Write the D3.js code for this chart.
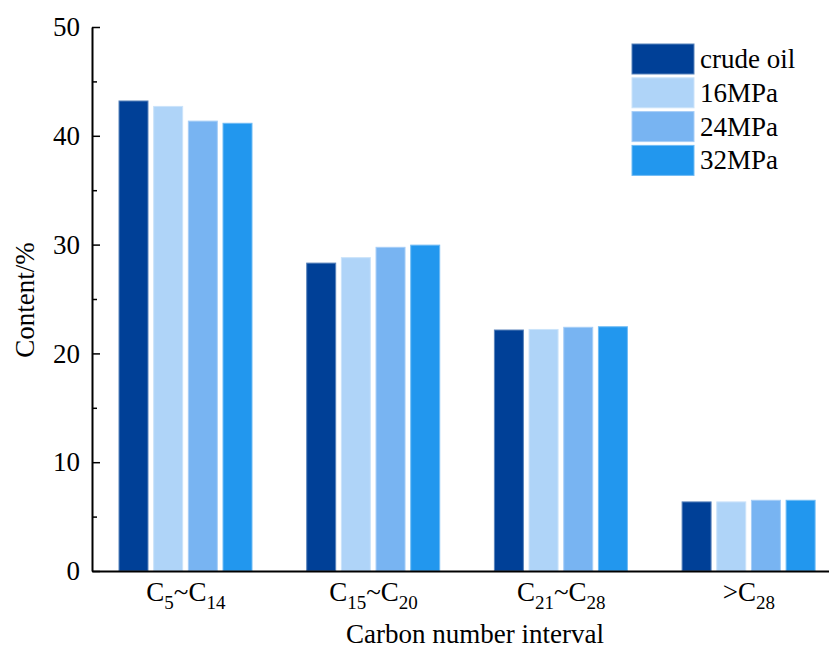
<!DOCTYPE html>
<html>
<head>
<meta charset="utf-8">
<script src="https://cdn.jsdelivr.net/npm/d3@7"></script>
<style>
  html, body { margin: 0; padding: 0; background: #fff; }
  svg { display: block; font-family: "Liberation Serif", "Times New Roman", serif; }
</style>
</head>
<body>
<svg id="chart" width="829" height="650"></svg>
<script>
// Carbon number intervals (digits are drawn as subscripts)
const categories = ["C5~C14", "C15~C20", "C21~C28", ">C28"];
const seriesNames = ["crude oil", "16MPa", "24MPa", "32MPa"];
const crudeOil = [43.2, 28.3, 22.15, 6.35];
const mpa16 = [42.7, 28.8, 22.2, 6.35];
const mpa24 = [41.35, 29.75, 22.4, 6.5];
const mpa32 = [41.15, 29.95, 22.45, 6.5];
const seriesColors = ["#004097", "#afd4f8", "#78b4f2", "#2297ee"];
const yTicks = [0, 10, 20, 30, 40, 50];
const yMinorTicks = [5, 15, 25, 35, 45];

const seriesValues = [crudeOil, mpa16, mpa24, mpa32];

const svg = d3.select("#chart");
const plotLeft = 92, plotTop = 27, plotBottom = 571;
const bandStep = 187.7;
const fontSize = 27;

const x = d3.scaleBand()
  .domain(categories)
  .range([plotLeft, plotLeft + bandStep * categories.length])
  .paddingInner(0).paddingOuter(0);

const xInner = d3.scaleBand()
  .domain(seriesNames)
  .range([27, 160])
  .paddingInner(0.164).paddingOuter(0);

const y = d3.scaleLinear().domain([0, 50]).range([plotBottom, plotTop]);

// Bars
const groups = svg.append("g").selectAll("g")
  .data(categories)
  .join("g")
  .attr("transform", d => `translate(${x(d)},0)`);

groups.selectAll("rect")
  .data((cat, ci) => seriesNames.map((s, si) => ({ s, si, v: seriesValues[si][ci] })))
  .join("rect")
  .attr("x", d => xInner(d.s))
  .attr("y", d => y(d.v))
  .attr("width", xInner.bandwidth())
  .attr("height", d => y(0) - y(d.v))
  .attr("fill", d => seriesColors[d.si])
  .attr("stroke", d => d3.interpolateRgb(seriesColors[d.si], "#ffffff")(0.35))
  .attr("stroke-width", 1);

// Y axis: major ticks point inward
const yAxis = svg.append("g")
  .attr("transform", `translate(${plotLeft},0)`)
  .call(d3.axisLeft(y).tickValues(yTicks).tickSizeInner(-8).tickSizeOuter(0).tickPadding(12));
yAxis.select(".domain").attr("stroke", "#000").attr("stroke-width", 2);
yAxis.selectAll(".tick line").attr("stroke", "#000").attr("stroke-width", 1.5);
yAxis.selectAll(".tick text")
  .attr("font-size", fontSize)
  .attr("font-family", "Liberation Serif, Times New Roman, serif")
  .attr("fill", "#000");

// Minor ticks
const yMinor = svg.append("g")
  .attr("transform", `translate(${plotLeft},0)`)
  .call(d3.axisLeft(y).tickValues(yMinorTicks).tickSizeInner(-5).tickSizeOuter(0).tickFormat(""));
yMinor.select(".domain").remove();
yMinor.selectAll(".tick line").attr("stroke", "#000").attr("stroke-width", 1.5);

// X axis baseline
const xAxis = svg.append("g")
  .attr("transform", `translate(0,${plotBottom})`)
  .call(d3.axisBottom(x).tickSize(0).tickFormat(""));
xAxis.select(".domain").attr("stroke", "#000").attr("stroke-width", 2);

// Category labels with subscripted digits
const catLabels = svg.append("g").selectAll("text")
  .data(categories)
  .join("text")
  .attr("x", d => x(d) + x.bandwidth() / 2)
  .attr("y", 601)
  .attr("text-anchor", "middle")
  .attr("font-size", fontSize)
  .attr("fill", "#000");

catLabels.each(function(d) {
  const t = d3.select(this);
  const parts = d.split(/(\d+)/).filter(p => p.length);
  let sub = false;
  parts.forEach(p => {
    const isNum = /^\d+$/.test(p);
    const ts = t.append("tspan").text(p);
    if (isNum) ts.attr("font-size", 19);
    if (isNum && !sub) { ts.attr("dy", 8); sub = true; }
    else if (!isNum && sub) { ts.attr("dy", -8); sub = false; }
  });
});

// Axis titles
svg.append("text")
  .attr("x", 475).attr("y", 643)
  .attr("text-anchor", "middle")
  .attr("font-size", fontSize)
  .text("Carbon number interval");

svg.append("text")
  .attr("transform", "translate(34,300) rotate(-90)")
  .attr("text-anchor", "middle")
  .attr("font-size", fontSize)
  .text("Content/%");

// Legend
const legend = svg.append("g").attr("transform", "translate(632,44)");
const items = legend.selectAll("g")
  .data(seriesNames)
  .join("g")
  .attr("transform", (d, i) => `translate(0,${i * 33.8})`);
items.append("rect")
  .attr("width", 62).attr("height", 30)
  .attr("fill", (d, i) => seriesColors[i])
  .attr("stroke", (d, i) => d3.interpolateRgb(seriesColors[i], "#ffffff")(0.35))
  .attr("stroke-width", 1);
items.append("text")
  .attr("x", 68).attr("y", 24)
  .attr("font-size", fontSize)
  .text(d => d);
</script>
</body>
</html>
